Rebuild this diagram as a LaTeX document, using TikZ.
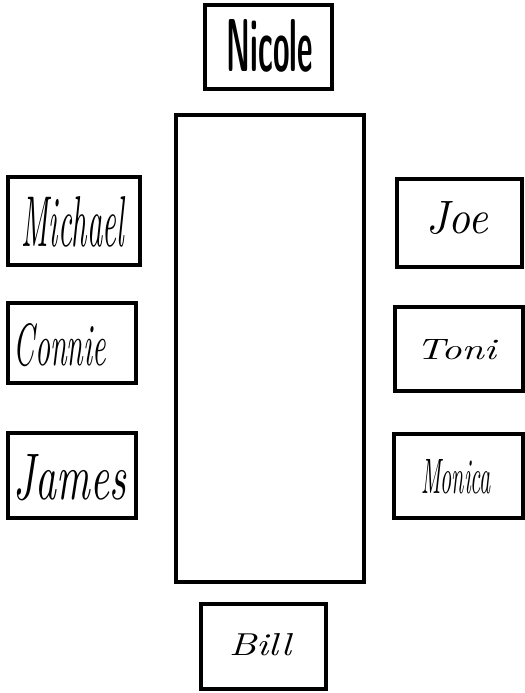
\documentclass[tikz,border=0pt]{standalone}
\usepackage{graphicx}
\begin{document}
\begin{tikzpicture}[x=1bp,y=-1bp,
  seat/.style={draw,line width=3.4bp,rectangle},
  sig/.style={inner sep=0pt,font=\itshape},
  tablebox/.style={draw,line width=4.4bp}]
\useasboundingbox[fill=white] (0,0) rectangle (525,693);
% table
\draw[tablebox] (176,115) rectangle (364,582);
% seat boxes
\draw[seat] (205,5) rectangle (332,89);
\draw[seat] (8,177) rectangle (140,265);
\draw[seat] (8,303) rectangle (136,383);
\draw[seat] (8,433) rectangle (136,518);
\draw[seat] (397,179) rectangle (522,267);
\draw[seat] (395,307) rectangle (523,391);
\draw[seat] (394,434) rectangle (523,518);
\draw[seat] (201,604) rectangle (326,689);
% names
\node[inner sep=0pt] (nicole) at (270,46) {\resizebox{86bp}{52bp}{\sffamily\bfseries Nicole}};
\node[sig] (michael) at (73,222) {\resizebox{102bp}{50bp}{Michael}};
\node[sig] (connie) at (60,345) {\resizebox{92bp}{42bp}{Connie}};
\node[sig] (james) at (70,478) {\resizebox{112bp}{45bp}{James}};
\node[sig] (joe) at (457,218) {\resizebox{62bp}{32bp}{Joe}};
\node[sig] (toni) at (456,350) {\resizebox{80bp}{20bp}{Toni}};
\node[sig] (monica) at (456,477) {\resizebox{70bp}{34bp}{Monica}};
\node[sig] (bill) at (260,645) {\resizebox{62bp}{22bp}{Bill}};
\end{tikzpicture}
\end{document}
